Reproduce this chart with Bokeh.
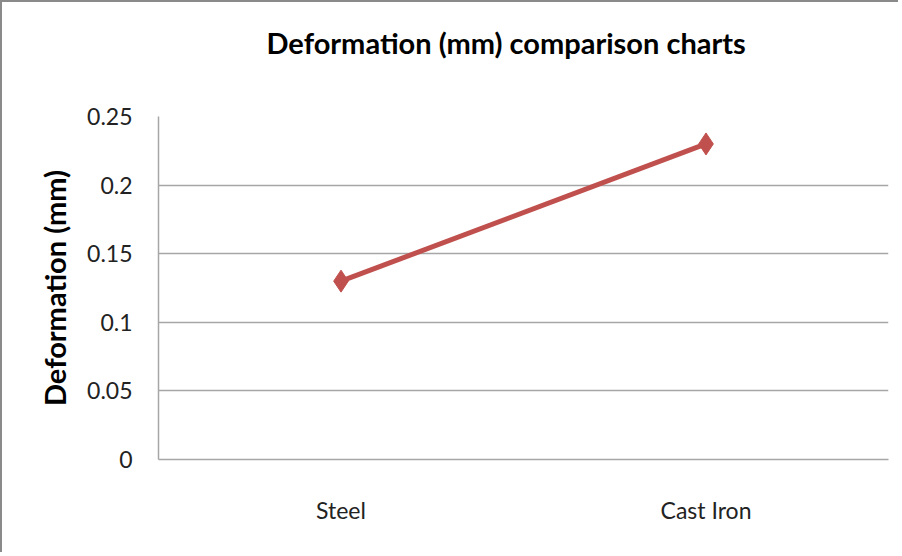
from bokeh.plotting import figure
from bokeh.models import FactorRange, Range1d, FixedTicker
from bokeh.embed import file_html
from bokeh.resources import INLINE

materials = ["Steel", "Cast Iron"]
deformation = [0.13, 0.23]
y_ticks = [0, 0.05, 0.1, 0.15, 0.2, 0.25]
y_tick_labels = ["0", "0.05", "0.1", "0.15", "0.2", "0.25"]
title_text = "Deformation (mm)  comparison charts"

FONT = "Lato"
GRID = "#a6a6a6"
RED = "#C0504D"

p = figure(width=898, height=552, x_range=FactorRange(*materials, range_padding=0),
           y_range=Range1d(0, 0.25), output_backend="svg", toolbar_location=None,
           title=title_text + "\n",
           min_border_left=156, min_border_right=12, min_border_top=114, min_border_bottom=95)
p.styles = {"border-left": "2px solid #8a8a8a", "border-top": "2px solid #8a8a8a"}

p.title.text_font = FONT
p.title.text_font_size = "29px"
p.title.text_font_style = "bold"
p.title.text_color = "#000000"
p.title.text_line_height = 1.2
p.title.align = "left"
p.title.offset = 108
p.title.standoff = 30

p.outline_line_color = None
p.xgrid.grid_line_color = None
p.ygrid.grid_line_color = GRID
p.ygrid.grid_line_width = 1.5
p.yaxis.ticker = FixedTicker(ticks=y_ticks)
p.yaxis.major_label_overrides = {t: l for t, l in zip(y_ticks, y_tick_labels)}

for ax in (p.xaxis[0], p.yaxis[0]):
    ax.axis_line_color = GRID
    ax.axis_line_width = 1.5
    ax.major_tick_line_color = None
    ax.minor_tick_line_color = None
    ax.major_label_text_font = FONT
    ax.major_label_text_font_size = "23px"
    ax.major_label_text_color = "#222222"

p.yaxis.major_label_standoff = 20
p.xaxis.major_label_standoff = 30
p.yaxis.axis_label = "Deformation (mm)"
p.yaxis.axis_label_text_font = FONT
p.yaxis.axis_label_text_font_size = "29px"
p.yaxis.axis_label_text_font_style = "bold"
p.yaxis.axis_label_text_color = "#000000"
p.yaxis.axis_label_standoff = 12

p.line(materials, deformation, line_color=RED, line_width=5)
p.scatter(materials, deformation, marker="diamond", size=22, fill_color=RED, line_color=RED)

open("out.html", "w").write(file_html(p, INLINE))
